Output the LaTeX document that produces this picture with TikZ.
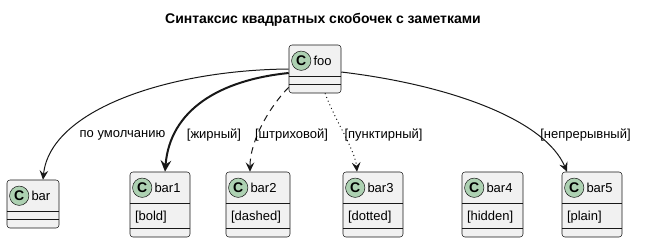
\documentclass[tikz,border=0pt]{standalone}
\usepackage{fontspec}
\setmainfont{Liberation Sans}
\usetikzlibrary{arrows.meta, positioning, calc}

\definecolor{boxfill}{HTML}{F1F1F1}
\definecolor{boxline}{HTML}{181818}
\definecolor{spotfill}{HTML}{ADD1B2}

\begin{document}
\begin{tikzpicture}[
  x=0.75pt, y=-0.75pt,
  cls/.style={rectangle, draw=boxline, fill=boxfill, rounded corners=2.2pt, line width=0.4pt, inner sep=0pt},
  spot/.style={circle, draw=boxline, fill=spotfill, minimum size=14.5pt, inner sep=0pt, line width=0.4pt, font=\fontsize{10.5}{10.5}\selectfont\bfseries},
  cname/.style={anchor=west, inner sep=0pt, font=\fontsize{9.75}{11}\selectfont},
  field/.style={anchor=west, inner sep=0pt, font=\fontsize{9.75}{11}\selectfont},
  lbl/.style={inner sep=0pt, font=\fontsize{9.75}{11}\selectfont},
  sep/.style={draw=boxline, line width=0.4pt},
  >={Stealth[length=7pt, width=6.5pt, inset=2.6pt]},
  line/.style={draw=boxline, ->, line width=0.75pt},
]
  \useasboundingbox (0,0) rectangle (646,251);

  % ── Title ──────────────────────────────────
  \node[font=\fontsize{10.5}{12}\selectfont\bfseries] (title) at (323,20) {Синтаксис квадратных скобочек с заметками};

  % ── foo ────────────────────────────────────
  \node[cls, minimum width=39pt, minimum height=36pt] (foo) at (315,69) {};
  \node[spot] (fooc) at ($(foo.north west)+(12.5,16)$) {C};
  \node[cname] (foot) at ($(foo.north west)+(24.5,16)$) {foo};
  \draw[sep] ($(foo.north west)+(0,32)$) -- ($(foo.north east)+(0,32)$);
  \draw[sep] ($(foo.north west)+(0,40)$) -- ($(foo.north east)+(0,40)$);

  % ── bar ────────────────────────────────────
  \node[cls, minimum width=39pt, minimum height=36pt] (bar) at (33,204) {};
  \node[spot] (barc) at ($(bar.north west)+(12.5,16)$) {C};
  \node[cname] (bart) at ($(bar.north west)+(24.5,16)$) {bar};
  \draw[sep] ($(bar.north west)+(0,32)$) -- ($(bar.north east)+(0,32)$);
  \draw[sep] ($(bar.north west)+(0,40)$) -- ($(bar.north east)+(0,40)$);

  % ── bar1 .. bar5 ───────────────────────────
  \foreach \n/\x/\w/\f in {bar1/160/45/bold, bar2/258/48/dashed, bar3/373/45/dotted, bar4/492.5/45.75/hidden, bar5/592/45/plain} {
    \node[cls, minimum width=\w pt, minimum height=48.75pt] (\n) at (\x,204.5) {};
    \node[spot] (\n c) at ($(\n.north west)+(12.5,16)$) {C};
    \node[cname] (\n t) at ($(\n.north west)+(24.5,16)$) {\n};
    \node[field] (\n f) at ($(\n.north west)+(5,45)$) {[\f]};
    \draw[sep] ($(\n.north west)+(0,32)$) -- ($(\n.north east)+(0,32)$);
    \draw[sep] ($(\n.north west)+(0,57)$) -- ($(\n.north east)+(0,57)$);
  }

  % ── Connections ────────────────────────────
  \draw[line] (foo.west) .. controls +(-120,1) and +(7,-70) .. ($(bar.north)+(10,0)$);
  \draw[line, line width=1.5pt, >={Stealth[length=8.5pt, width=8pt, inset=3pt]}] ($(foo.west)+(0,4)$) .. controls +(-69,7) and +(5,-62) .. ($(bar1.north)+(5,0)$);
  \draw[line, dash pattern=on 5pt off 3.8pt] ($(foo.south west)+(0,-6)$) .. controls +(-18,18) and +(0,-32) .. ($(bar2.north)+(-8,0)$);
  \draw[line, dash pattern=on 0.75pt off 2.25pt] ($(foo.south)+(10,0)$) .. controls +(10,27) and +(-2,-22) .. ($(bar3.north)+(-16,0)$);
  \draw[line] ($(foo.east)+(0,3)$) .. controls +(109,13) and +(-22,-52) .. ($(bar5.north)+(-25,0)$);

  % ── Labels ─────────────────────────────────
  \node[lbl] (lbar) at (122.5,135) {по умолчанию};
  \node[lbl] (lbar1) at (214,135) {[жирный]};
  \node[lbl] (lbar2) at (291.5,135) {[штриховой]};
  \node[lbl] (lbar3) at (383.5,135) {[пунктирный]};
  \node[lbl] (lbar5) at (585.5,135) {[непрерывный]};

\end{tikzpicture}
\end{document}
